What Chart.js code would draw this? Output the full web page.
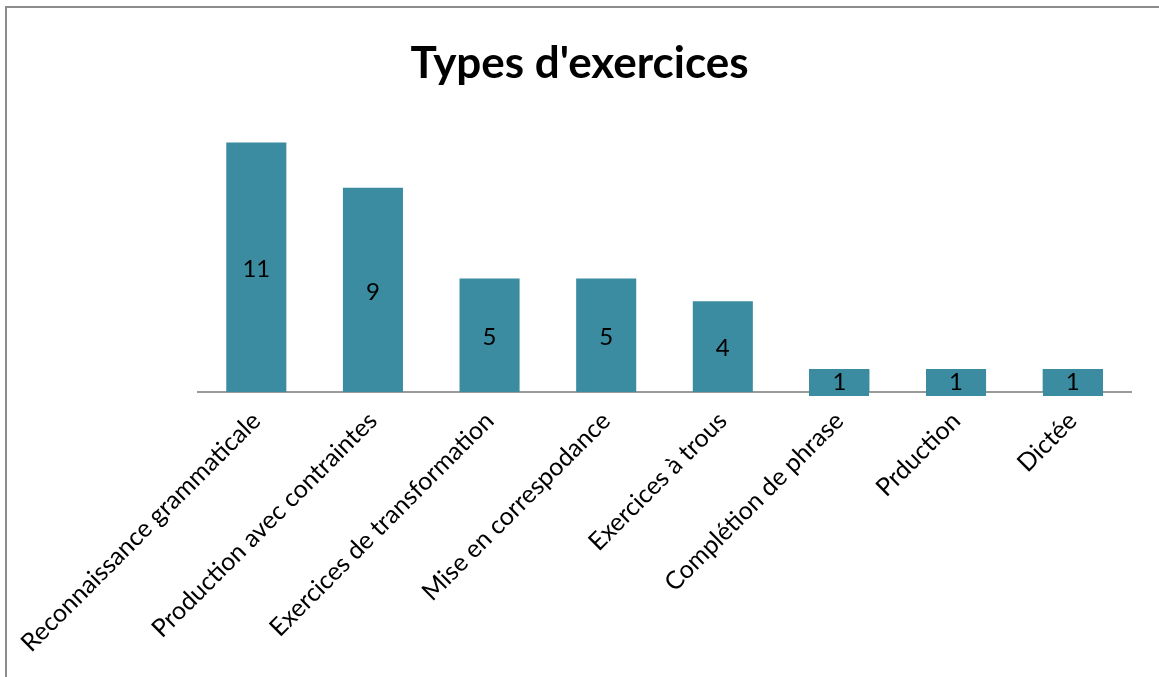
<!DOCTYPE html>
<html lang="fr">
<head>
<meta charset="utf-8">
<title>Types d'exercices</title>
<script src="https://cdn.jsdelivr.net/npm/chart.js@4.4.0/dist/chart.umd.min.js"></script>
<style>
  html, body { margin: 0; padding: 0; background: #ffffff; }
  #wrap { position: relative; width: 1159px; height: 677px; }
</style>
</head>
<body>
<div id="wrap"><canvas id="chart" width="1159" height="677"></canvas></div>
<script>
// Exercise types and how many of each were counted
const categories = [
  'Reconnaissance grammaticale',
  'Production avec contraintes',
  'Exercices de transformation',
  'Mise en correspodance',
  'Exercices à trous',
  'Complétion de phrase',
  'Prduction',
  'Dictée'
];
const counts = [11, 9, 5, 5, 4, 1, 1, 1];

const BAR_COLOR = '#3b8ca0';

// Frame around the chart (top and left edges)
const framePlugin = {
  id: 'frame',
  beforeDraw(chart) {
    const ctx = chart.ctx;
    ctx.save();
    ctx.strokeStyle = '#8c8c8c';
    ctx.lineWidth = 2;
    ctx.beginPath();
    ctx.moveTo(6, 677);
    ctx.lineTo(6, 7);
    ctx.lineTo(1159, 7);
    ctx.stroke();
    ctx.restore();
  }
};

// Value labels centred on each bar; short bars get a filled label box
const valueLabels = {
  id: 'valueLabels',
  afterDatasetsDraw(chart) {
    const ctx = chart.ctx;
    const meta = chart.getDatasetMeta(0);
    const data = chart.data.datasets[0].data;
    const boxH = 27;
    ctx.save();
    ctx.font = '24px Lato, "Open Sans", sans-serif';
    ctx.textAlign = 'center';
    ctx.textBaseline = 'middle';
    meta.data.forEach((bar, i) => {
      const cy = (bar.y + bar.base) / 2 + 2;
      if (bar.base - bar.y < boxH) {
        const left = Math.round(bar.x - bar.width / 2);
        const right = Math.round(bar.x + bar.width / 2);
        ctx.fillStyle = BAR_COLOR;
        ctx.fillRect(left, Math.round(cy - boxH / 2), right - left, boxH);
      }
      ctx.fillStyle = '#000000';
      ctx.fillText(String(data[i]), bar.x, cy);
    });
    ctx.restore();
  }
};

new Chart(document.getElementById('chart'), {
  type: 'bar',
  data: {
    labels: categories,
    datasets: [{
      data: counts,
      backgroundColor: BAR_COLOR,
      borderWidth: 0,
      categoryPercentage: 1.0,
      barPercentage: 0.515
    }]
  },
  options: {
    responsive: false,
    animation: false,
    events: [],
    layout: { padding: 0 },
    plugins: {
      legend: { display: false },
      tooltip: { enabled: false },
      title: {
        display: true,
        text: "Types d'exercices",
        color: '#000000',
        font: { family: 'Lato, "Open Sans", sans-serif', size: 44, weight: 'bold' },
        padding: { top: 37, bottom: 30 }
      }
    },
    scales: {
      x: {
        grid: { display: false },
        border: { display: true, color: '#9a9a9a', width: 2 },
        ticks: {
          color: '#000000',
          font: { family: 'Lato, "Open Sans", sans-serif', size: 25 },
          minRotation: 45,
          maxRotation: 45,
          autoSkip: false,
          padding: 6
        },
        afterFit(scale) {
          scale.height = 285;
          scale.paddingLeft = 198;
          scale.paddingRight = 28;
        }
      },
      y: {
        display: false,
        min: 0,
        max: 12
      }
    }
  },
  plugins: [framePlugin, valueLabels]
});
</script>
</body>
</html>
